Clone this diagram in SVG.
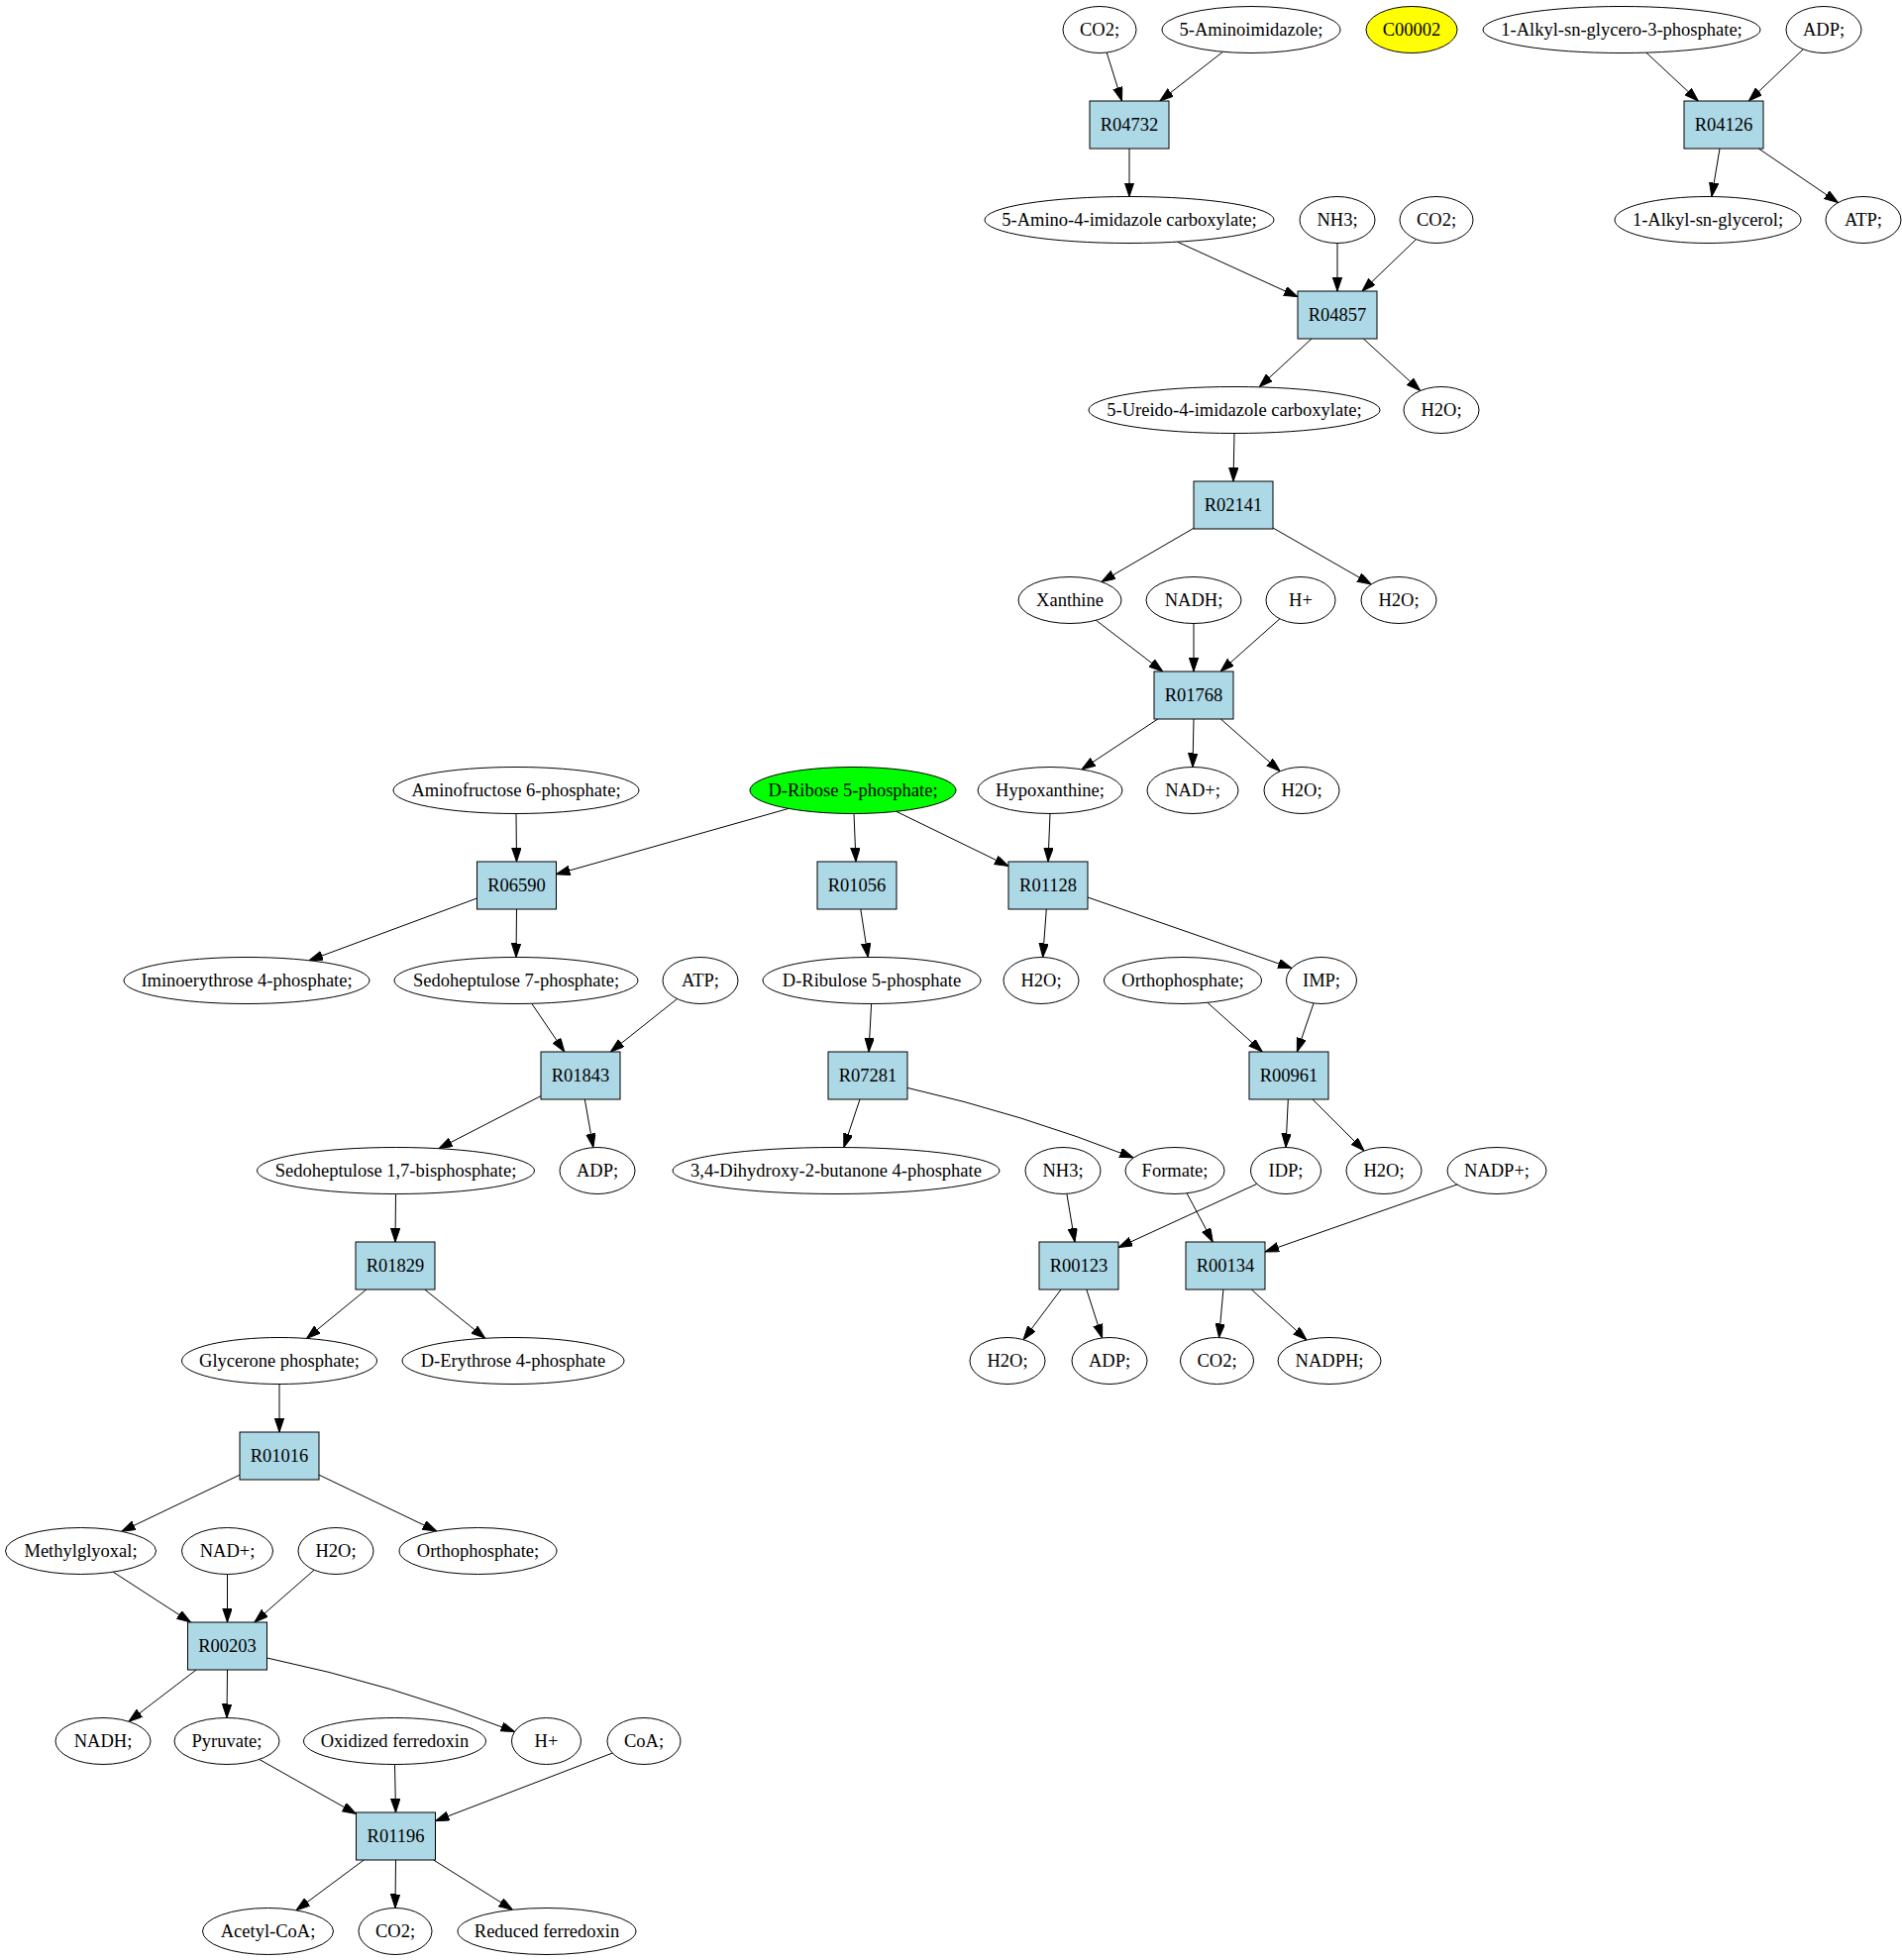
<svg xmlns="http://www.w3.org/2000/svg" width="1920" height="1979" viewBox="0 0 1920 1979">
<style>
.b{fill:#add8e6;stroke:#000;stroke-width:1}
.e{fill:#fff;stroke:#000;stroke-width:1}
text{font-family:"Liberation Serif","Times New Roman",serif;font-size:18.5px;text-anchor:middle;fill:#000}
.c path,.c line{fill:none;stroke:#000;stroke-width:1;marker-end:url(#a)}
</style>
<defs>
<marker id="a" markerUnits="userSpaceOnUse" markerWidth="14" markerHeight="10" refX="14" refY="4.7" orient="auto"><path d="M0,0 L14,4.7 L0,9.4 z" fill="#000" stroke="#000" stroke-width="1"/></marker>
</defs>
<rect width="1920" height="1979" fill="#fff"/>
<g id="connectors" class="c">
<line x1="1117.2" y1="53" x2="1132.5" y2="102"/>
<line x1="1234.5" y1="52.3" x2="1170.8" y2="102"/>
<line x1="1661.8" y1="53.1" x2="1714.3" y2="102"/>
<line x1="1820.3" y1="49.7" x2="1765.3" y2="102"/>
<line x1="1736" y1="150" x2="1727.9" y2="198.5"/>
<line x1="1775.3" y1="150" x2="1855.5" y2="204.6"/>
<line x1="1140" y1="150" x2="1140" y2="198.5"/>
<line x1="1188.5" y1="244.2" x2="1310" y2="299.7"/>
<line x1="1350" y1="245.5" x2="1350" y2="294"/>
<line x1="1429.6" y1="241.6" x2="1375" y2="294"/>
<line x1="1324" y1="342" x2="1271.1" y2="390.8"/>
<line x1="1376.3" y1="342" x2="1433.7" y2="394.5"/>
<line x1="1246" y1="437.5" x2="1245" y2="486"/>
<line x1="1205" y1="533.3" x2="1111.9" y2="587.4"/>
<line x1="1285" y1="533" x2="1384.2" y2="590"/>
<line x1="1106.4" y1="626.3" x2="1173.8" y2="678"/>
<line x1="1205" y1="629.5" x2="1205" y2="678"/>
<line x1="1291.9" y1="624.8" x2="1232" y2="678"/>
<line x1="1168.8" y1="726" x2="1091.9" y2="776.9"/>
<line x1="1205" y1="726" x2="1204" y2="774.5"/>
<line x1="1232.3" y1="726" x2="1292.2" y2="778.8"/>
<line x1="521" y1="821.5" x2="521.5" y2="870"/>
<line x1="796" y1="816.4" x2="561.5" y2="882.7"/>
<line x1="862" y1="821.5" x2="864" y2="870"/>
<line x1="904.7" y1="819.3" x2="1018" y2="874.5"/>
<line x1="1060" y1="821.5" x2="1058" y2="870"/>
<line x1="481.5" y1="907" x2="312" y2="969.8"/>
<line x1="521.5" y1="918" x2="521" y2="966.5"/>
<line x1="868.8" y1="918" x2="876.3" y2="966.5"/>
<line x1="1056.3" y1="918" x2="1052.7" y2="966.5"/>
<line x1="1098" y1="906" x2="1304" y2="977.5"/>
<line x1="536.8" y1="1013.3" x2="569.8" y2="1062"/>
<line x1="683.6" y1="1008.5" x2="616.3" y2="1062"/>
<line x1="879.6" y1="1013.5" x2="877" y2="1062"/>
<line x1="1218.9" y1="1012.3" x2="1274.3" y2="1062"/>
<line x1="1326.1" y1="1012.9" x2="1309.3" y2="1062"/>
<line x1="546" y1="1106.6" x2="442.9" y2="1159.7"/>
<line x1="590.3" y1="1110" x2="598.9" y2="1158.6"/>
<line x1="868" y1="1110" x2="851.8" y2="1158.5"/>
<path d="M916,1098.4 Q1030,1124 1144.2,1169"/>
<line x1="1300.3" y1="1110" x2="1298" y2="1158.5"/>
<line x1="1325" y1="1110" x2="1377" y2="1162"/>
<line x1="399.5" y1="1205.5" x2="399" y2="1254"/>
<line x1="1076.9" y1="1205.4" x2="1085" y2="1254"/>
<line x1="1268.8" y1="1195.4" x2="1129" y2="1259.6"/>
<line x1="1198.1" y1="1204.8" x2="1224.3" y2="1254"/>
<line x1="1470.9" y1="1196" x2="1277" y2="1264"/>
<line x1="369.8" y1="1302" x2="309.5" y2="1351.4"/>
<line x1="428.8" y1="1302" x2="489.8" y2="1351.3"/>
<line x1="1071" y1="1302" x2="1033" y2="1352.7"/>
<line x1="1096.8" y1="1302" x2="1112.6" y2="1351"/>
<line x1="1234.9" y1="1302" x2="1230.6" y2="1350.5"/>
<line x1="1263.3" y1="1302" x2="1319" y2="1352.9"/>
<line x1="282" y1="1397.5" x2="282" y2="1446"/>
<line x1="242" y1="1489.2" x2="122.7" y2="1546.3"/>
<line x1="322" y1="1489.2" x2="440.7" y2="1546"/>
<line x1="114.2" y1="1587.2" x2="192.5" y2="1638"/>
<line x1="229.5" y1="1589.5" x2="229.5" y2="1638"/>
<line x1="317.1" y1="1585.2" x2="256.9" y2="1638"/>
<line x1="198.1" y1="1686" x2="129.9" y2="1738.2"/>
<line x1="229.5" y1="1686" x2="229" y2="1734.5"/>
<path d="M269.5,1674 Q394.5,1700 519.5,1748.5"/>
<line x1="261.8" y1="1776.5" x2="359.5" y2="1831.5"/>
<line x1="398.5" y1="1781.5" x2="399.5" y2="1830"/>
<line x1="618.3" y1="1770" x2="439.5" y2="1838.7"/>
<line x1="367.3" y1="1878" x2="299" y2="1928.8"/>
<line x1="399.5" y1="1878" x2="399" y2="1926.5"/>
<line x1="437.6" y1="1878" x2="517.5" y2="1928.3"/>
</g>
<g id="n_co2_a"><ellipse class="e" cx="1110" cy="30" rx="37" ry="23.5"/><text x="1110" y="36">CO2;</text></g>
<g id="n_aminoimidazole"><ellipse class="e" cx="1263" cy="30" rx="90" ry="23.5"/><text x="1263" y="36">5-Aminoimidazole;</text></g>
<g id="n_C00002"><ellipse cx="1425" cy="30" rx="46" ry="23.5" fill="#ffff00" stroke="#000"/><text x="1425" y="36">C00002</text></g>
<g id="n_alkylglycerophosphate"><ellipse class="e" cx="1637" cy="30" rx="140" ry="23.5"/><text x="1637" y="36">1-Alkyl-sn-glycero-3-phosphate;</text></g>
<g id="n_adp_a"><ellipse class="e" cx="1841" cy="30" rx="38" ry="23.5"/><text x="1841" y="36">ADP;</text></g>
<g id="n_R04732"><rect class="b" x="1100" y="102" width="80" height="48"/><text x="1140" y="132">R04732</text></g>
<g id="n_R04126"><rect class="b" x="1700" y="102" width="80" height="48"/><text x="1740" y="132">R04126</text></g>
<g id="n_aminoimidazolecarboxylate"><ellipse class="e" cx="1140" cy="222" rx="146" ry="23.5"/><text x="1140" y="228">5-Amino-4-imidazole carboxylate;</text></g>
<g id="n_nh3_a"><ellipse class="e" cx="1350" cy="222" rx="38" ry="23.5"/><text x="1350" y="228">NH3;</text></g>
<g id="n_co2_b"><ellipse class="e" cx="1450" cy="222" rx="37" ry="23.5"/><text x="1450" y="228">CO2;</text></g>
<g id="n_alkylglycerol"><ellipse class="e" cx="1724" cy="222" rx="94" ry="23.5"/><text x="1724" y="228">1-Alkyl-sn-glycerol;</text></g>
<g id="n_atp_a"><ellipse class="e" cx="1881" cy="222" rx="38" ry="23.5"/><text x="1881" y="228">ATP;</text></g>
<g id="n_R04857"><rect class="b" x="1310" y="294" width="80" height="48"/><text x="1350" y="324">R04857</text></g>
<g id="n_ureido"><ellipse class="e" cx="1246" cy="414" rx="147" ry="23.5"/><text x="1246" y="420">5-Ureido-4-imidazole carboxylate;</text></g>
<g id="n_h2o_a"><ellipse class="e" cx="1455" cy="414" rx="38" ry="23.5"/><text x="1455" y="420">H2O;</text></g>
<g id="n_R02141"><rect class="b" x="1205" y="486" width="80" height="48"/><text x="1245" y="516">R02141</text></g>
<g id="n_xanthine"><ellipse class="e" cx="1080" cy="606" rx="52" ry="23.5"/><text x="1080" y="612">Xanthine</text></g>
<g id="n_nadh_a"><ellipse class="e" cx="1205" cy="606" rx="48" ry="23.5"/><text x="1205" y="612">NADH;</text></g>
<g id="n_hplus_a"><ellipse class="e" cx="1313" cy="606" rx="35" ry="23.5"/><text x="1313" y="612">H+</text></g>
<g id="n_h2o_b"><ellipse class="e" cx="1412" cy="606" rx="38" ry="23.5"/><text x="1412" y="612">H2O;</text></g>
<g id="n_R01768"><rect class="b" x="1165" y="678" width="80" height="48"/><text x="1205" y="708">R01768</text></g>
<g id="n_aminofructose"><ellipse class="e" cx="521" cy="798" rx="124" ry="23.5"/><text x="521" y="804">Aminofructose 6-phosphate;</text></g>
<g id="n_ribose5p"><ellipse cx="861" cy="798" rx="104" ry="23.5" fill="#00ff00" stroke="#000"/><text x="861" y="804">D-Ribose 5-phosphate;</text></g>
<g id="n_hypoxanthine"><ellipse class="e" cx="1060" cy="798" rx="73" ry="23.5"/><text x="1060" y="804">Hypoxanthine;</text></g>
<g id="n_nadplus_a"><ellipse class="e" cx="1204" cy="798" rx="46" ry="23.5"/><text x="1204" y="804">NAD+;</text></g>
<g id="n_h2o_c"><ellipse class="e" cx="1314" cy="798" rx="38" ry="23.5"/><text x="1314" y="804">H2O;</text></g>
<g id="n_R06590"><rect class="b" x="481.5" y="870" width="80" height="48"/><text x="521.5" y="900">R06590</text></g>
<g id="n_R01056"><rect class="b" x="825" y="870" width="80" height="48"/><text x="865" y="900">R01056</text></g>
<g id="n_R01128"><rect class="b" x="1018" y="870" width="80" height="48"/><text x="1058" y="900">R01128</text></g>
<g id="n_iminoerythrose"><ellipse class="e" cx="249" cy="990" rx="124" ry="23.5"/><text x="249" y="996">Iminoerythrose 4-phosphate;</text></g>
<g id="n_sedo7p"><ellipse class="e" cx="521" cy="990" rx="123" ry="23.5"/><text x="521" y="996">Sedoheptulose 7-phosphate;</text></g>
<g id="n_atp_b"><ellipse class="e" cx="707" cy="990" rx="38" ry="23.5"/><text x="707" y="996">ATP;</text></g>
<g id="n_ribulose5p"><ellipse class="e" cx="880" cy="990" rx="110" ry="23.5"/><text x="880" y="996">D-Ribulose 5-phosphate</text></g>
<g id="n_h2o_d"><ellipse class="e" cx="1051" cy="990" rx="38" ry="23.5"/><text x="1051" y="996">H2O;</text></g>
<g id="n_orthophosphate_a"><ellipse class="e" cx="1194" cy="990" rx="79.5" ry="23.5"/><text x="1194" y="996">Orthophosphate;</text></g>
<g id="n_imp"><ellipse class="e" cx="1334" cy="990" rx="35.5" ry="23.5"/><text x="1334" y="996">IMP;</text></g>
<g id="n_R01843"><rect class="b" x="546" y="1062" width="80" height="48"/><text x="586" y="1092">R01843</text></g>
<g id="n_R07281"><rect class="b" x="836" y="1062" width="80" height="48"/><text x="876" y="1092">R07281</text></g>
<g id="n_R00961"><rect class="b" x="1261" y="1062" width="80" height="48"/><text x="1301" y="1092">R00961</text></g>
<g id="n_sedo17bp"><ellipse class="e" cx="399.5" cy="1182" rx="140" ry="23.5"/><text x="399.5" y="1188">Sedoheptulose 1,7-bisphosphate;</text></g>
<g id="n_adp_b"><ellipse class="e" cx="603" cy="1182" rx="38" ry="23.5"/><text x="603" y="1188">ADP;</text></g>
<g id="n_dihydroxybutanone"><ellipse class="e" cx="844" cy="1182" rx="165" ry="23.5"/><text x="844" y="1188">3,4-Dihydroxy-2-butanone 4-phosphate</text></g>
<g id="n_nh3_b"><ellipse class="e" cx="1073" cy="1182" rx="38" ry="23.5"/><text x="1073" y="1188">NH3;</text></g>
<g id="n_formate"><ellipse class="e" cx="1186" cy="1182" rx="50" ry="23.5"/><text x="1186" y="1188">Formate;</text></g>
<g id="n_idp"><ellipse class="e" cx="1298" cy="1182" rx="35.5" ry="23.5"/><text x="1298" y="1188">IDP;</text></g>
<g id="n_h2o_e"><ellipse class="e" cx="1397" cy="1182" rx="38" ry="23.5"/><text x="1397" y="1188">H2O;</text></g>
<g id="n_nadpplus"><ellipse class="e" cx="1511" cy="1182" rx="50" ry="23.5"/><text x="1511" y="1188">NADP+;</text></g>
<g id="n_R01829"><rect class="b" x="359" y="1254" width="80" height="48"/><text x="399" y="1284">R01829</text></g>
<g id="n_R00123"><rect class="b" x="1049" y="1254" width="80" height="48"/><text x="1089" y="1284">R00123</text></g>
<g id="n_R00134"><rect class="b" x="1197" y="1254" width="80" height="48"/><text x="1237" y="1284">R00134</text></g>
<g id="n_glycerone"><ellipse class="e" cx="282" cy="1374" rx="98.5" ry="23.5"/><text x="282" y="1380">Glycerone phosphate;</text></g>
<g id="n_erythrose4p"><ellipse class="e" cx="518" cy="1374" rx="112" ry="23.5"/><text x="518" y="1380">D-Erythrose 4-phosphate</text></g>
<g id="n_h2o_f"><ellipse class="e" cx="1017" cy="1374" rx="38" ry="23.5"/><text x="1017" y="1380">H2O;</text></g>
<g id="n_adp_c"><ellipse class="e" cx="1120" cy="1374" rx="38" ry="23.5"/><text x="1120" y="1380">ADP;</text></g>
<g id="n_co2_c"><ellipse class="e" cx="1228.5" cy="1374" rx="37" ry="23.5"/><text x="1228.5" y="1380">CO2;</text></g>
<g id="n_nadph"><ellipse class="e" cx="1342" cy="1374" rx="52" ry="23.5"/><text x="1342" y="1380">NADPH;</text></g>
<g id="n_R01016"><rect class="b" x="242" y="1446" width="80" height="48"/><text x="282" y="1476">R01016</text></g>
<g id="n_methylglyoxal"><ellipse class="e" cx="81.5" cy="1566" rx="76" ry="23.5"/><text x="81.5" y="1572">Methylglyoxal;</text></g>
<g id="n_nadplus_b"><ellipse class="e" cx="229.5" cy="1566" rx="46" ry="23.5"/><text x="229.5" y="1572">NAD+;</text></g>
<g id="n_h2o_g"><ellipse class="e" cx="339" cy="1566" rx="38" ry="23.5"/><text x="339" y="1572">H2O;</text></g>
<g id="n_orthophosphate_b"><ellipse class="e" cx="482.5" cy="1566" rx="79.5" ry="23.5"/><text x="482.5" y="1572">Orthophosphate;</text></g>
<g id="n_R00203"><rect class="b" x="189.5" y="1638" width="80" height="48"/><text x="229.5" y="1668">R00203</text></g>
<g id="n_nadh_b"><ellipse class="e" cx="104" cy="1758" rx="48" ry="23.5"/><text x="104" y="1764">NADH;</text></g>
<g id="n_pyruvate"><ellipse class="e" cx="229" cy="1758" rx="53" ry="23.5"/><text x="229" y="1764">Pyruvate;</text></g>
<g id="n_oxferredoxin"><ellipse class="e" cx="398.5" cy="1758" rx="92" ry="23.5"/><text x="398.5" y="1764">Oxidized ferredoxin</text></g>
<g id="n_hplus_b"><ellipse class="e" cx="551.5" cy="1758" rx="35" ry="23.5"/><text x="551.5" y="1764">H+</text></g>
<g id="n_coa"><ellipse class="e" cx="650" cy="1758" rx="37" ry="23.5"/><text x="650" y="1764">CoA;</text></g>
<g id="n_R01196"><rect class="b" x="359.5" y="1830" width="80" height="48"/><text x="399.5" y="1860">R01196</text></g>
<g id="n_acetylcoa"><ellipse class="e" cx="270.5" cy="1950" rx="66" ry="23.5"/><text x="270.5" y="1956">Acetyl-CoA;</text></g>
<g id="n_co2_d"><ellipse class="e" cx="399" cy="1950" rx="37" ry="23.5"/><text x="399" y="1956">CO2;</text></g>
<g id="n_redferredoxin"><ellipse class="e" cx="552" cy="1950" rx="90" ry="23.5"/><text x="552" y="1956">Reduced ferredoxin</text></g>
</svg>
